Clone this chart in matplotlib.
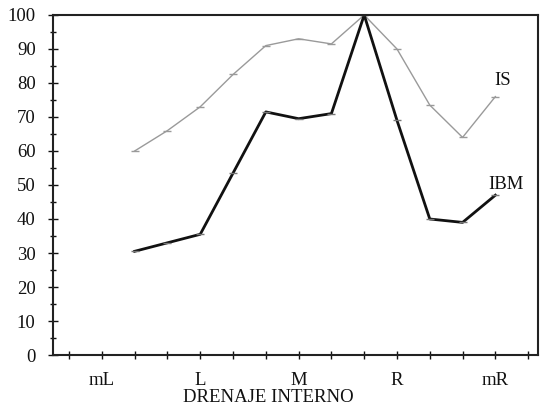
import numpy as np
import matplotlib.pyplot as plt

# drainage classes along the x axis (3 sub-steps per class)
categories = ['mL', 'L', 'M', 'R', 'mR']
# series values, one per sub-step starting at the 3rd sub-step
is_values = [60, 66, 73, 82.5, 91, 93, 91.5, 100, 90, 73.5, 64, 76]
ibm_values = [30.5, 33, 35.5, 53.5, 71.5, 69.5, 71, 100, 69, 40, 39, 47]
series_names = ['IS', 'IBM']

plt.rcParams['font.family'] = ['Liberation Serif', 'DejaVu Serif']

fig = plt.figure(figsize=(5.43, 4.09), dpi=100)
ax = fig.add_axes([53 / 543, 54 / 409, 485 / 543, 340 / 409])

steps = 3 * len(categories)
x = np.arange(len(is_values)) + 2
fs = 13.5

ax.plot(x, is_values, color='#9a9a9a', lw=1.0, marker='_', ms=6, mew=1.0)
ax.plot(x, ibm_values, color='#111111', lw=2.0, marker='_', ms=6, mew=1.0,
        mec='#777777')

ax.text(13.23, 80.6, series_names[0], fontsize=fs, ha='center', va='center',
        color='#111111')
ax.text(13.32, 50, series_names[1], fontsize=fs, ha='center', va='center',
        color='#111111')

ax.set_xlim(-0.49, steps - 0.7)
ax.set_ylim(0, 100)

xt = np.arange(steps)
xl = [categories[i // 3] if i % 3 == 1 else '' for i in xt]
ax.set_xticks(xt, xl)
ax.set_yticks(np.arange(0, 101, 10))
ax.set_yticks(np.arange(5, 100, 10), minor=True)

ax.tick_params(axis='x', direction='inout', length=6, width=1, pad=9.5,
               labelsize=fs, colors='#111111')
ax.tick_params(axis='y', which='major', direction='inout', length=7, width=1,
               pad=9, labelsize=fs, colors='#111111')
ax.tick_params(axis='y', which='minor', direction='inout', length=5, width=1,
               colors='#111111')

for s in ax.spines.values():
    s.set_linewidth(1.5)
    s.set_color('#222222')

fig.text(268 / 543, 1 - 398 / 409, 'DRENAJE INTERNO', fontsize=fs,
         ha='center', va='center', color='#111111')

fig.savefig('out.png', dpi=100)
